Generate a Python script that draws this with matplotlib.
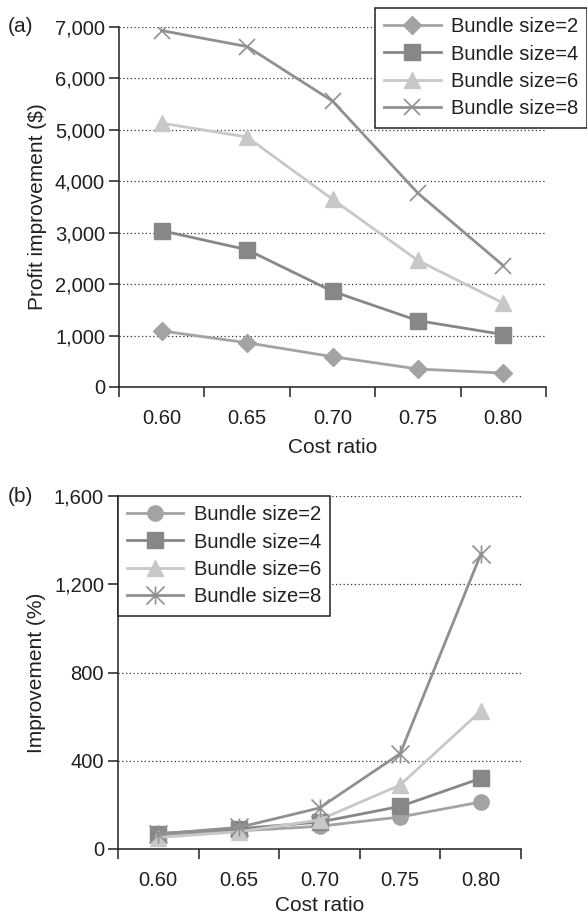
import matplotlib
matplotlib.use("Agg")
import matplotlib.pyplot as plt
import numpy as np
from matplotlib.path import Path
from matplotlib.ticker import FuncFormatter

plt.rcParams['font.family'] = ['Liberation Sans', 'DejaVu Sans']

cost_ratio = ["0.60", "0.65", "0.70", "0.75", "0.80"]
labels = ["Bundle size=2", "Bundle size=4", "Bundle size=6", "Bundle size=8"]

# (a) profit improvement ($)
profit_b2 = [1090, 860, 590, 350, 270]
profit_b4 = [3040, 2670, 1860, 1290, 1020]
profit_b6 = [5130, 4860, 3650, 2460, 1630]
profit_b8 = [6930, 6620, 5560, 3770, 2360]

# (b) improvement (%)
pct_b2 = [65, 82, 103, 145, 213]
pct_b4 = [70, 92, 122, 193, 320]
pct_b6 = [52, 78, 132, 290, 625]
pct_b8 = [68, 98, 186, 432, 1335]

colors = ["#a3a3a5", "#87878a", "#c8c8c8", "#909093"]
asterisk = Path([(0, -1), (0, 1), (-1, -1), (1, 1), (-1, 1), (1, -1)],
                [Path.MOVETO, Path.LINETO, Path.MOVETO, Path.LINETO, Path.MOVETO, Path.LINETO])

fig = plt.figure(figsize=(5.87, 9.24), dpi=100)
ax1 = fig.add_axes([119/587, 1-387/924, 427/587, 360/924])
ax2 = fig.add_axes([118/587, 1-849/924, 403/587, 353/924])

x = np.arange(len(cost_ratio))
fs = 14.5
spine_c = "#231f20"

def style(ax, ymax, ystep, ylabel, tag, tag_y, xpad):
    for s in ["top", "right"]:
        ax.spines[s].set_visible(False)
    for s in ["left", "bottom"]:
        ax.spines[s].set_linewidth(1.1)
        ax.spines[s].set_color(spine_c)
    ax.set_xlim(-0.5, len(cost_ratio) - 0.5)
    ax.set_ylim(0, ymax)
    ax.set_xticks(np.arange(-0.5, len(cost_ratio)))
    ax.set_xticklabels([])
    ax.set_xticks(x, minor=True)
    ax.set_xticklabels(cost_ratio, minor=True, fontsize=fs, color=spine_c)
    ax.tick_params(axis='x', which='minor', length=0, pad=16)
    ax.tick_params(axis='x', which='major', length=7, width=1.1, color=spine_c, direction='out')
    ax.set_yticks(np.arange(0, ymax + 1, ystep))
    ax.yaxis.set_major_formatter(FuncFormatter(lambda v, p: "{:,}".format(int(v))))
    ax.tick_params(axis='y', length=7, width=1.1, color=spine_c, labelsize=fs, labelcolor=spine_c, pad=3)
    for v in np.arange(ystep, ymax + 1, ystep):
        ax.axhline(v, color="#333333", lw=0.9, ls=(0, (1, 2)), zorder=0)
    ax.set_xlabel("Cost ratio", fontsize=fs + 0.5, color=spine_c, labelpad=xpad)
    ax.set_ylabel(ylabel, fontsize=fs + 0.5, color=spine_c, labelpad=6)
    fig.text(8/587, tag_y, tag, fontsize=fs + 0.5, color=spine_c, ha='left', va='center')

# top panel
ax1.plot(x, profit_b2, color=colors[0], lw=2, marker='D', ms=9, mec=colors[0], label=labels[0])
ax1.plot(x, profit_b4, color=colors[1], lw=2, marker='s', ms=11, mec=colors[1], label=labels[1])
ax1.plot(x, profit_b6, color=colors[2], lw=2, marker='^', ms=12, mec=colors[2], label=labels[2])
ax1.plot(x, profit_b8, color=colors[3], lw=2, marker='x', ms=12, mew=1.2, mec=colors[3], label=labels[3])
style(ax1, 7000, 1000, "Profit improvement ($)", "(a)", 1 - 27/924, 7)
leg1 = ax1.legend(loc='upper right', bbox_to_anchor=(1.0, 1 - 8/924), bbox_transform=fig.transFigure,
                  fontsize=fs, frameon=True, fancybox=False, borderaxespad=0, handlelength=2.8,
                  handletextpad=0.5, labelspacing=0.42, borderpad=0.45, framealpha=1)
leg1.get_frame().set_edgecolor(spine_c)
leg1.get_frame().set_linewidth(1.1)
for t in leg1.get_texts():
    t.set_color(spine_c)

# bottom panel
ax2.plot(x, pct_b2, color=colors[0], lw=2, marker='o', ms=11, mec=colors[0], label=labels[0])
ax2.plot(x, pct_b4, color=colors[1], lw=2, marker='s', ms=11, mec=colors[1], label=labels[1])
ax2.plot(x, pct_b6, color=colors[2], lw=2, marker='^', ms=12, mec=colors[2], label=labels[2])
ax2.plot(x, pct_b8, color=colors[3], lw=2, marker=asterisk, ms=13, mew=1.2, mec=colors[3],
         mfc='none', label=labels[3])
style(ax2, 1600, 400, "Improvement (%)", "(b)", 1 - 496/924, 4)
leg2 = ax2.legend(loc='upper left', bbox_to_anchor=(0, 1), fontsize=fs, frameon=True, fancybox=False,
                  borderaxespad=0, handlelength=2.8, handletextpad=0.5, labelspacing=0.42,
                  borderpad=0.45, framealpha=1)
leg2.get_frame().set_edgecolor(spine_c)
leg2.get_frame().set_linewidth(1.1)
for t in leg2.get_texts():
    t.set_color(spine_c)

fig.savefig("out.png", dpi=100)
